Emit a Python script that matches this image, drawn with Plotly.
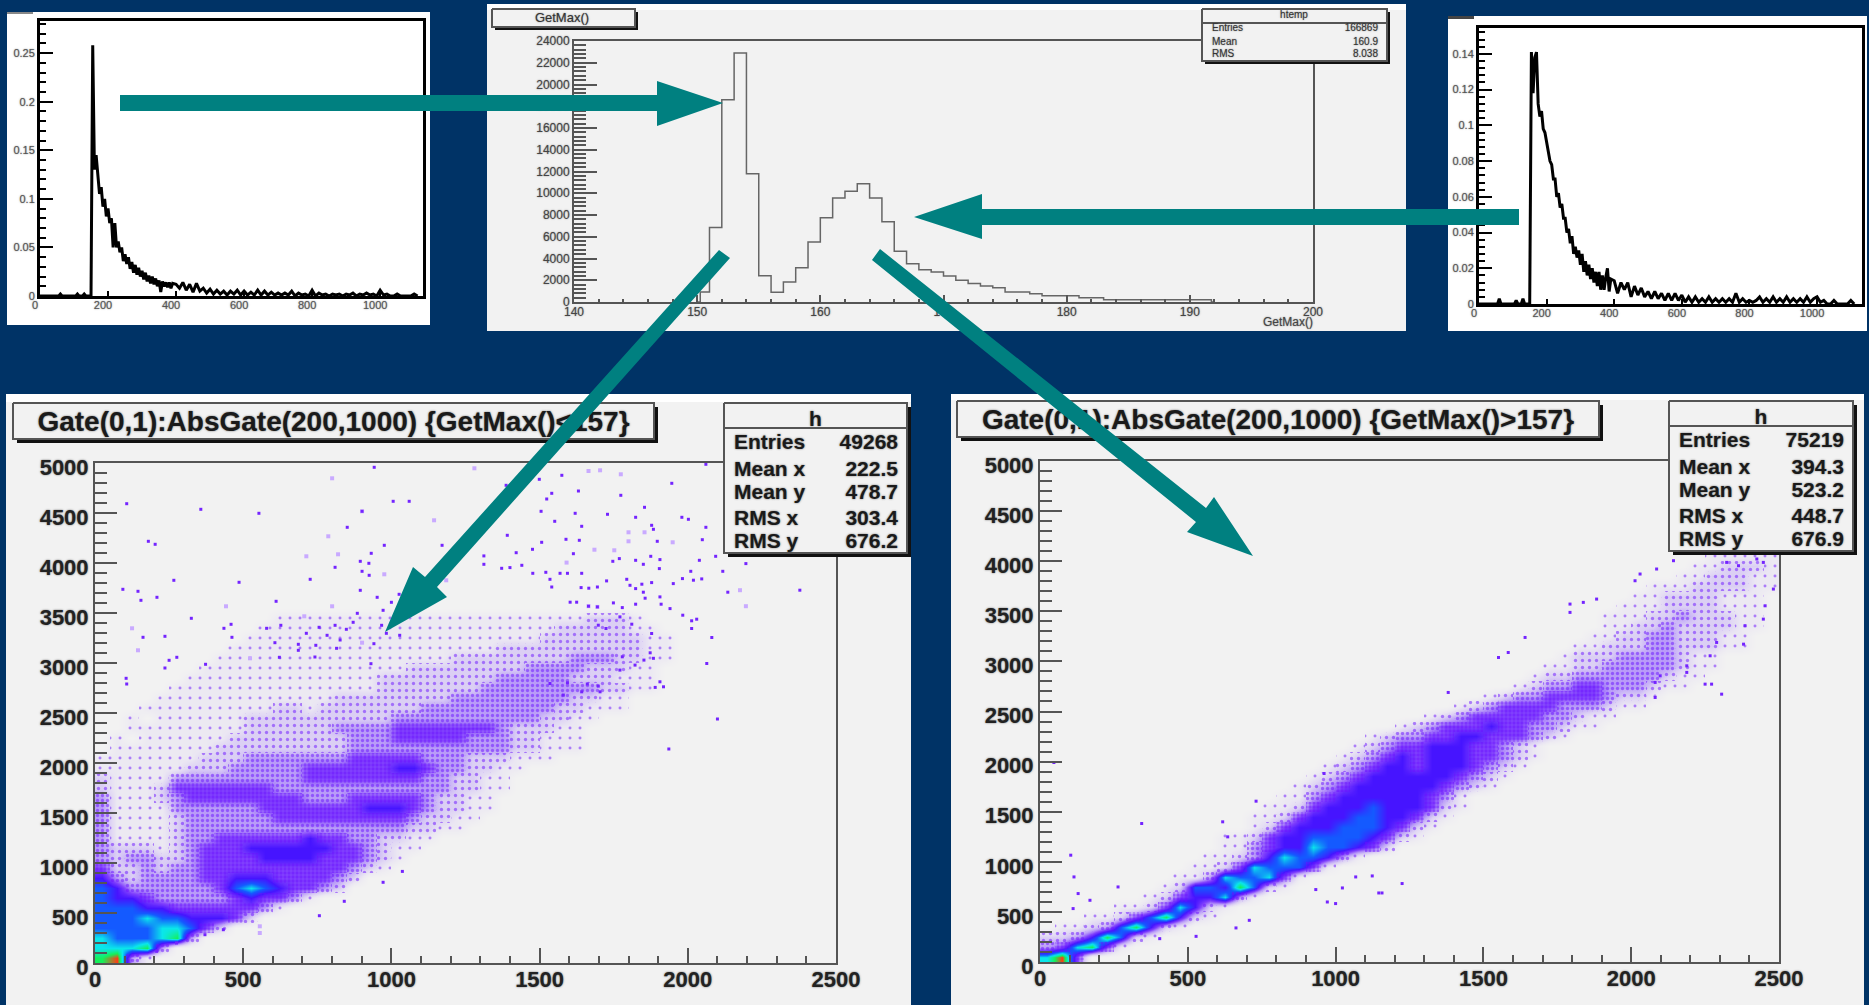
import plotly.graph_objects as go

W, H = 1869, 1005
NAVY = "#003366"; TEAL = "#008080"; GREY = "#f2f2f2"; FONT = "Liberation Sans"

# ---------- 1D distributions (small plots): x = 150..390 step 5, then 400..1110 step 10
dist_x = list(range(150, 391, 5)) + list(range(400, 1111, 10))
low_x = [0, 55, 60, 65, 105, 110, 115, 125, 130, 135, 145]
low_left = [0, 0, .002, 0, 0, .002, 0, 0, .002, 0, 0]
low_right = [0, 0, .003, 0, .0, .002, 0, 0, .003, 0, 0]
left_vals = [
    0, .258, .13, .145, .12, .105, .112, .092, .1, .082,
    .09, .075, .08, .05, .075, .05, .056, .045, .05, .036,
    .043, .033, .04, .028, .035, .024, .032, .022, .029, .02,
    .026, .017, .024, .015, .021, .013, .02, .012, .018, .01,
    .016, .004, .015, .01, .014, .009, .014, .008, .013,
    .012, .008, .014, .006, .012, .004, .013, .005, .008, .003,
    .007, .002, .006, .002, .005, .001, .005, .002, .006, .001,
    .005, .001, .004, .001, .006, .001, .005, .001, .004, .001,
    .003, .001, .003, .001, .005, 0, .003, .001, .002, 0,
    .006, 0, .003, .001, .002, 0, .002, .001, .002, 0,
    .002, .001, .003, 0, .002, .001, .003, .001, .002, 0,
    .006, .001, .002, 0, 0, .002, 0, 0, 0, 0,
    .002, 0]
right_vals = [
    0, .141, .118, .138, .141, .112, .105, .108, .098, .096,
    .09, .086, .08, .078, .07, .07, .06, .062, .054, .056,
    .048, .048, .04, .042, .034, .038, .028, .032, .026, .03,
    .022, .028, .018, .024, .016, .022, .014, .02, .012, .018,
    .01, .018, .008, .016, .008, .015, .02, .007, .014,
    .013, .006, .012, .008, .012, .004, .01, .005, .009, .004,
    .007, .003, .007, .003, .006, .002, .006, .002, .006, .002,
    .005, .001, .004, .001, .004, .001, .003, .001, .004, .001,
    .003, .001, .003, .001, .003, .001, .006, .001, .003, .001,
    .002, .001, .002, .004, .001, .003, .001, .004, .001, .003,
    .001, .004, .001, .003, .001, .003, .001, .004, .001, .003,
    .004, .001, .002, 0, 0, .002, 0, 0, 0, 0,
    .002, 0]
assert len(dist_x) == len(left_vals) == len(right_vals)

# ---------- GetMax() histogram, 1-unit bins starting at 150
gm_start = 150
gm_counts = [920, 6840, 18600, 22900, 11800, 2420, 890, 1840, 3150, 5520, 7750, 9560, 10180, 10880,
             9560, 7390, 4660, 3520, 2970, 2760, 2390, 2000, 1690, 1470, 1320, 920, 920, 770, 580,
             580, 580, 400, 400, 200, 200, 200, 200, 200, 200, 200, 200, 200]

# ---------- density levels (0-9) read per 50x100 cell; row k covers y = 100k..100k+100
left_rows = [
    "8931", "77783", "7666783", "666677642", "66676655542", "6665544444431", "655433333454431",
    "65333333467654432", "532333344555444432", "42232334444444444321",
    "323322344445555444321", "3222123444555555443211", "31111233444444544332211",
    "3111123333333333333332211", "31111233333344444444432211",
    "311113333334444444555432211", "311123444444443334444432211",
    "2111244444443333333333332211", "2111133333333344444444332211",
    "11111122233333444444554332211", "1111111222333333344444333222111",
    "011111112222222223333333333322111", "010111111222222223334444433322111",
    "001111111122222233334444444322211", "0010111111222222222233333333332211",
    "000111111111221222222233333333322111", "000011111111111122222222333333332211",
    "00000111111111111112222222333333332211",
    "00000011111111111112222222233333222111",
    "00000001111111111111122222222333322211",
    "000000001111111111111111222222223332211",
    "000000000111111111111111111222222222211",
    "000000000011111111111111111111222222211",
    "00000000000111111111111111111112222211",
    "0000000000001111111111111111111112221",
    "",
]
right_start = [0, 0, 0, 1, 3, 5, 7, 8, 9, 10, 11, 12, 12, 14, 14, 15, 16, 17, 18, 19, 20, 21, 22, 24, 26, 28,
               30, 32, 33, 34, 35, 36, 37, 38, 38, 39, 40, 41, 43, 44, 45, 0]
right_rows = [
    "794", "347841", "22358621", "112368521", "112468521", "11247521",
    "12455731", "126658621", "113766741", "1124766641",
    "11235766531", "113455766542",
    "11245566665421", "1245556665421", "11245556655421",
    "11245556555421", "1134555555431", "12345555554321", "12345555554321", "12345545554321",
    "12345455544321", "1234455544321", "12334455444321", "12344454433211", "1234444433211",
    "1234444333211", "123344443221", "123344333211", "122333333211", "112233333211",
    "12223333211", "112223322211", "11223322211", "11223222211", "11122322211",
    "1112222111", "112222111", "111222211", "1122211", "112221", "11111", "",
]
assert len(right_start) == len(right_rows)
row_h = 100; col_w = 50

# ---------- isolated entries
left_x = [107, 357, 553, 942, 901, 1006, 1060, 851, 180, 203, 976, 1171, 932, 895, 924, 810, 901, 925, 726, 266, 486,
          94, 145, 895, 155, 209, 611, 952, 1026, 885, 325, 871, 459, 435, 627, 579, 756, 810, 848, 713, 162, 236, 462,
          783, 967, 983, 1028, 972, 1000, 607, 686, 686, 745, 827, 815, 941, 250, 276, 373, 622, 742, 931, 105, 107, 236,
          1499, 1575, 1946, 1631, 1524, 1541, 1774, 1387, 2061, 1505, 1620, 1729, 1854, 1980, 2002, 1824, 1551, 1642,
          1878, 1884, 2061, 1391, 1507, 1589, 1634, 1897, 2049, 1421, 1476, 1614, 1312, 1312, 1747, 1769, 1824, 1875,
          1906, 1850, 2039, 2094, 2196, 1372, 1400, 1440, 1477, 1521, 1569, 1594, 1642, 1904, 2010, 2118, 1535, 1541,
          1640, 1666, 1695, 1726, 1794, 1805, 1824, 1845, 1878, 1951, 1982, 2019, 2047, 2135, 2378, 1906, 1850, 1856,
          1603, 1625, 1665, 1695, 1749, 1779, 1824, 1910, 1940, 1983, 2013, 2030, 2013, 2081, 1878, 1811, 1771, 1724,
          1698, 1873, 1884, 1779, 1822, 1852, 2064, 1771, 1906, 1890, 1918, 1704, 1661, 1594, 1535, 1698, 1580, 1642,
          1936, 2100, 972, 1037, 841, 757, 433, 371, 275, 208]
left_y = [4593, 4537, 4497, 4957, 4517, 4617, 4617, 4357, 4217, 4187, 4177, 4177, 4097, 4017, 3997, 3957, 3917, 3877, 3837, 3827, 3807,
          3737, 3717, 3727, 3627, 3657, 3617, 3657, 3687, 3497, 3447, 3407, 3387, 3347, 3377, 3347, 3357, 3377, 3337, 3297, 3257, 3267, 3257,
          3277, 3377, 3297, 3277, 3527, 3607, 3203, 3187, 3127, 3177, 3230, 3147, 3193, 3027, 3057, 2987, 3057, 3060, 2993, 2847, 2790, 2950,
          4837, 4877, 4797, 4720, 4640, 4697, 4677, 4777, 4987, 4517, 4497, 4487, 4557, 4457, 4437, 4457, 4417, 4367,
          4377, 4337, 4357, 4277, 4207, 4237, 4227, 4217, 4233, 4103, 4137, 4093, 4071, 3987, 4017, 4044, 4027, 4067,
          4034, 3987, 4027, 4067, 3994, 3947, 3954, 3977, 3897, 3907, 3897, 3897, 3897, 3944, 3917, 3917, 3837, 3760,
          3754, 3748, 3760, 3821, 3837, 3777, 3744, 3788, 3804, 3794, 3844, 3828, 3841, 3708, 3728, 3661, 3708, 3648,
          3608, 3608, 3568, 3561, 3601, 3554, 3588, 3588, 3544, 3478, 3422, 3438, 3345, 3255, 3295, 3388, 3461, 3345,
          3378, 3102, 3047, 3062, 2979, 3029, 2995, 2929, 2812, 2756, 2762, 2712, 2790, 2802, 2795, 2769, 2679, 2712,
          2140, 2440, 807, 916, 617, 473, 333, 283, 200, 117]
left_pale_x = [800, 901, 1144, 787, 713, 820, 976, 1185, 442, 800, 706, 125, 145, 901, 523, 1280, 1665, 1704, 1774, 1800, 1854, 1800, 1949, 1685, 1752,
               1591, 2176, 2196, 1665, 1695, 556, 556]
left_pale_y = [4847, 4517, 4427, 4267, 4067, 4087, 3887, 3827, 3567, 3567, 3467, 3347, 3127, 3203, 3047, 4947, 4920, 4927, 4887, 4307, 4307, 4217, 4207, 4133, 4127,
               4004, 3728, 3568, 3568, 3561, 300, 367]
right_x = [2267, 2380, 2272, 2250, 2306, 2081, 2081, 2098, 2188, 2188, 2289, 2447, 2385, 2453, 2481, 2447, 2425, 2363, 2323, 2143, 2086,
           2030, 2013, 1793, 1838, 1883, 1793, 1641, 1584, 1551, 1381, 47, 104, 115, 264, 344, 129, 169, 112, 618, 731, 961, 635,
           1146, 1225, 1157, 1023, 1000, 663, 708, 528, 405, 972, 1124, 1068, 933]
right_y = [3056, 3172, 2773, 2773, 2673, 2790, 2640, 2856, 2890, 2956, 3189, 3422, 3356, 3555, 3722, 3988, 4022, 3955, 3988, 4005, 3922,
           3872, 3805, 3572, 3589, 3622, 3489, 3239, 3089, 3039, 2690, 1991, 1066, 849, 749, 1382, 683, 616, 533, 1399, 1605, 1881, 1249,
           689, 783, 689, 739, 583, 340, 416, 256, 233, 599, 859, 849, 723]

# ---------- texts
left_title = "Gate(0,1):AbsGate(200,1000) {GetMax()<157}"
right_title = "Gate(0,1):AbsGate(200,1000) {GetMax()>157}"
stat_labels = ["Entries", "Mean x", "Mean y", "RMS x", "RMS y"]
left_stats = ["49268", "222.5", "478.7", "303.4", "676.2"]
right_stats = ["75219", "394.3", "523.2", "448.7", "676.9"]
gm_labels = ["Entries", "Mean", "RMS"]
gm_stats = ["166869", "160.9", "8.038"]

# ---------- layout geometry (pixels of the page)
P1 = dict(l=40, r=423, t=21, b=296)
P2 = dict(l=574, r=1313, t=41, b=302)
P3 = dict(l=1479, r=1862, t=28, b=304)
P4 = dict(l=95, r=836, t=463, b=963)
P5 = dict(l=1040, r=1779, t=461, b=962)

def dom(p):
    return dict(x=[p["l"] / W, p["r"] / W], y=[1 - p["b"] / H, 1 - p["t"] / H])

fig = go.Figure()
layout = {}
BLUR_D = "0 0 2px rgba(60,60,60,.75)"
BLUR_L = "0 0 1.5px rgba(90,90,90,.8)"

def axes(n, p, xr, yr, xd, yd, xminor, yminor, lw, lc, fs, tc, xlen, xmlen, ylen, ymlen, tw, xshift=0, yshift=0,
         xoff=0, yoff=0, bold=False, blur=BLUR_L):
    d = dom(p)
    common = dict(showgrid=False, zeroline=False, ticks="inside", mirror=True, showline=True, automargin=False,
                  linecolor=lc, linewidth=lw, tickcolor=lc, tickwidth=tw, tickformat="~g" if yd < 1 else "d",
                  tickfont=dict(family=FONT, size=fs, color=tc, weight=700 if bold else 400, shadow=blur),
                  fixedrange=True)
    xa = dict(common, domain=d["x"], range=xr, dtick=xd, tick0=0, ticklen=xlen, anchor=f"y{n}", tickformat="d",
              ticklabelshift=xshift, ticklabelstandoff=xoff)
    ya = dict(common, domain=d["y"], range=yr, dtick=yd, tick0=0, ticklen=ylen, anchor=f"x{n}",
              ticklabelshift=yshift, ticklabelstandoff=yoff)
    if xminor:
        xa["minor"] = dict(dtick=xminor, tick0=0, ticks="inside", ticklen=xmlen, tickwidth=tw, tickcolor=lc)
    if yminor:
        ya["minor"] = dict(dtick=yminor, tick0=0, ticks="inside", ticklen=ymlen, tickwidth=tw, tickcolor=lc)
    layout[f"xaxis{n}"] = xa
    layout[f"yaxis{n}"] = ya

axes(1, P1, [0, 1126], [0, .283], 200, .05, None, .01, 3, "#000000", 11, "#555555", 5, 0, 13, 6, 2, xshift=-5, xoff=-3)
axes(2, P2, [140, 200], [0, 24000], 10, 2000, 2, 400, 2, "#555555", 12, "#444444", 7, 3, 23, 12, 1.5, xoff=-2)
axes(3, P3, [0, 1133], [0, .1545], 200, .02, None, .004, 3, "#000000", 11, "#555555", 5, 0, 13, 6, 2, xshift=-5, xoff=-3)
axes(4, P4, [0, 2500], [0, 5000], 500, 500, 100, 100, 2, "#555555", 22, "#222222", 15, 7, 22, 12, 1.5, yshift=4, xoff=-4, bold=True, blur=BLUR_D)
axes(5, P5, [0, 2500], [0, 5000], 500, 500, 100, 100, 2, "#555555", 22, "#222222", 15, 7, 22, 12, 1.5, yshift=4, xoff=-4, bold=True, blur=BLUR_D)
layout["xaxis6"] = dict(domain=[0, 1], range=[0, W], visible=False, anchor="y6", fixedrange=True, automargin=False)
layout["yaxis6"] = dict(domain=[0, 1], range=[H, 0], visible=False, anchor="x6", fixedrange=True, automargin=False)

# ---------- the five panels
fig.add_trace(go.Scatter(x=low_x + dist_x, y=low_left + left_vals, mode="lines", xaxis="x1", yaxis="y1",
                         line=dict(color="#000000", width=3), showlegend=False))
fig.add_trace(go.Scatter(x=low_x + dist_x, y=low_right + right_vals, mode="lines", xaxis="x3", yaxis="y3",
                         line=dict(color="#000000", width=3), showlegend=False))

gm_x = [gm_start + i + .5 for i in range(len(gm_counts))]
fig.add_trace(go.Scatter(x=[gm_start] + gm_x + [gm_x[-1] + .5], y=[0] + gm_counts + [0], mode="lines",
                         line=dict(color="#666666", width=1.5, shape="hvh"), xaxis="x2", yaxis="y2", showlegend=False))

SCALE = [[0, "rgba(200,170,255,0)"], [1/9, "rgba(150,100,255,.06)"], [2/9, "rgba(130,70,255,.2)"],
         [3/9, "rgba(115,50,255,.45)"], [4/9, "rgba(100,20,255,.8)"], [5/9, "rgb(70,20,255)"],
         [6/9, "rgb(20,90,255)"], [7/9, "rgb(10,230,235)"], [8/9, "rgb(20,240,90)"], [1, "rgb(255,60,20)"]]
STIPPLE = {1: (10, .07), 2: (7, .18), 3: (5, .35), 4: (4, .55)}

def grid(rows, starts=None):
    z = []
    for k, row in enumerate(rows):
        cells = [0] * 50
        s = starts[k] if starts else 0
        for j, c in enumerate(row):
            if s + j < 50:
                cells[s + j] = int(c)
        z.append(cells)
    return z

xc = [col_w / 2 + col_w * i for i in range(50)]

def density(z, ax):
    fig.add_trace(go.Heatmap(z=z, x=xc, y=[row_h / 2 + row_h * k for k in range(len(z))], zmin=0, zmax=9,
                             colorscale=SCALE, showscale=False, zsmooth="best", xaxis=f"x{ax}", yaxis=f"y{ax}"))
    for lev, (sz, sol) in STIPPLE.items():
        bx, by = [], []
        for k, row in enumerate(z):
            for i, v in enumerate(row):
                if v == lev:
                    bx.append(xc[i]); by.append(row_h * k)
        fig.add_trace(go.Bar(x=bx, y=[row_h] * len(bx), base=by, width=col_w, xaxis=f"x{ax}", yaxis=f"y{ax}",
                             showlegend=False,
                             marker=dict(color="rgba(0,0,0,0)", line=dict(width=0),
                                         pattern=dict(shape=".", size=sz, solidity=sol, fgcolor="#6a10ff",
                                                      bgcolor="rgba(0,0,0,0)"))))

density(grid(left_rows), 4)
density(grid(right_rows, right_start), 5)

def pts(x, y, ax, color, size):
    fig.add_trace(go.Scatter(x=x, y=y, mode="markers", xaxis=f"x{ax}", yaxis=f"y{ax}", showlegend=False,
                             marker=dict(symbol="square", size=size, color=color, line=dict(width=0))))

pts(left_pale_x, left_pale_y, 4, "#c9aaff", 4)
pts(left_x, left_y, 4, "#7424ff", 3)
pts(right_x, right_y, 5, "#7424ff", 3)

# ---------- overlay: boxes, text, arrows
def poly(xs, ys, fill, line=None, lw=0):
    fig.add_trace(go.Scatter(x=xs, y=ys, mode="lines", fill="toself", fillcolor=fill, xaxis="x6", yaxis="y6",
                             line=dict(color=line or fill, width=lw), showlegend=False))

def box(l, t, r, b, sh=4, fill=GREY):
    poly([l + sh, r + sh, r + sh, l + sh, l + sh], [t + sh, t + sh, b + sh, b + sh, t + sh], "#111111")
    poly([l, r, r, l, l], [t, t, b, b, t], fill, "#555555", 2)

def hline(x0, x1, y, c="#555555", w=2):
    fig.add_trace(go.Scatter(x=[x0, x1], y=[y, y], mode="lines", xaxis="x6", yaxis="y6",
                             line=dict(color=c, width=w), showlegend=False))

def text(x, y, s, size, pos, color="#1a1a1a", bold=False, blur=BLUR_D):
    fig.add_trace(go.Scatter(x=[x], y=[y], text=[s], mode="text", textposition=pos,
                             textfont=dict(family=FONT, size=size, color=color, weight=700 if bold else 400, shadow=blur),
                             xaxis="x6", yaxis="y6", showlegend=False))

# GetMax panel boxes
box(492, 9, 635, 27, sh=3)
text(562, 19, "GetMax()", 13, "middle center", "#333333", blur=BLUR_L)
text(1313, 323, "GetMax()", 12, "middle left", "#444444", blur=BLUR_L)
box(1202, 9, 1387, 61, sh=3)
hline(1202, 1387, 23)
text(1294, 15, "htemp", 10, "middle center", "#333333", blur=BLUR_L)
for lab, val, yy in zip(gm_labels, gm_stats, [28, 42, 54]):
    text(1212, yy, lab, 10, "middle right", "#333333", blur=BLUR_L)
    text(1378, yy, val, 10, "middle left", "#333333", blur=BLUR_L)

# lower panels
def lower(tl, tr, tt, tb, title, sl, sr, st, sb, vals, dy):
    box(tl, tt, tr, tb)
    text((tl + tr) / 2, (tt + tb) / 2 + 3, title, 28, "middle center", bold=True)
    box(sl, st, sr, sb)
    hline(sl, sr, st + 25)
    text((sl + sr) / 2, st + 18, "h", 21, "middle center", bold=True)
    for lab, val, yy in zip(stat_labels, vals, [444, 471, 494, 520, 543]):
        text(sl + 10, yy + dy, lab, 21, "middle right", bold=True)
        text(sr - 9, yy + dy, val, 21, "middle left", bold=True)

lower(13, 654, 403, 439, left_title, 724, 907, 403, 553, left_stats, 0)
lower(957, 1599, 401, 437, right_title, 1669, 1853, 401, 551, right_stats, -2)

# arrows
arrow_a_x = [120, 657, 657, 723, 657, 657, 120]
arrow_a_y = [95, 95, 81, 103, 126, 111, 111]
arrow_b_x = [1519, 982, 982, 914, 982, 982, 1519]
arrow_b_y = [209, 209, 194, 217, 239, 225, 225]
arrow_c_x = [719, 425, 413, 385, 447, 437, 730]
arrow_c_y = [250, 577, 567, 632, 597, 587, 258]
arrow_d_x = [880, 1206, 1214, 1253, 1187, 1196, 872]
arrow_d_y = [249, 508, 497, 556, 532, 522, 260]
for ax_, ay_ in [(arrow_a_x, arrow_a_y), (arrow_b_x, arrow_b_y), (arrow_c_x, arrow_c_y), (arrow_d_x, arrow_d_y)]:
    poly(ax_ + ax_[:1], ay_ + ay_[:1], TEAL)

def rect(x0, y0, x1, y1, color):
    return dict(type="rect", xref="paper", yref="paper", layer="below", x0=x0 / W, x1=x1 / W,
                y0=1 - y1 / H, y1=1 - y0 / H, fillcolor=color, line=dict(width=0))

shapes = [
    rect(7, 12, 430, 325, "#ffffff"), rect(7, 12, 33, 14, "#888888"),
    rect(1448, 16, 1867, 331, "#ffffff"), rect(1448, 16, 1474, 19, "#444444"),
    rect(487, 4, 1406, 331, "#ffffff"), rect(487, 10, 1406, 331, GREY),
    rect(6, 394, 911, 1005, "#ffffff"), rect(6, 402, 911, 1005, GREY),
    rect(951, 394, 1864, 1005, "#ffffff"), rect(951, 400, 1864, 1005, GREY),
]

fig.update_layout(width=W, height=H, margin=dict(l=0, r=0, t=0, b=0, pad=0), paper_bgcolor=NAVY,
                  plot_bgcolor="rgba(0,0,0,0)", showlegend=False, shapes=shapes, hovermode=False,
                  barmode="overlay", bargap=0, font=dict(family=FONT), **layout)

fig.write_html("out.html", config=dict(displayModeBar=False),
               post_script="document.body.style.margin='0';document.body.style.overflow='hidden';")
